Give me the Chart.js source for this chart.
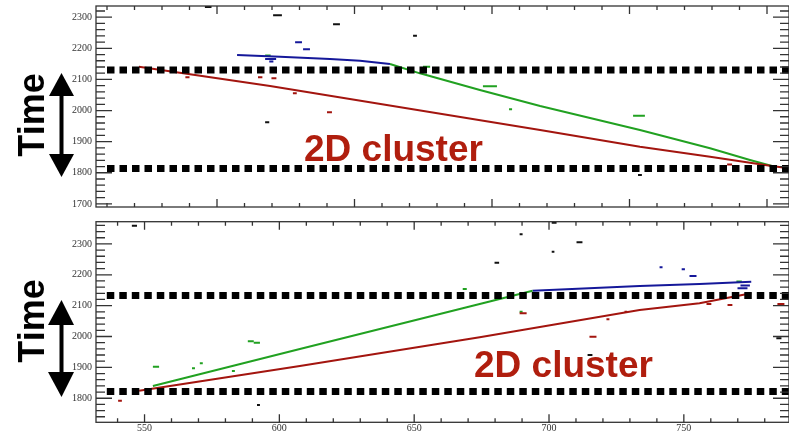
<!DOCTYPE html>
<html>
<head>
<meta charset="utf-8">
<script src="https://cdn.jsdelivr.net/npm/chart.js@4.4.1/dist/chart.umd.min.js"></script>
<style>
  html, body { margin: 0; padding: 0; background: #fff; }
  #wrap { position: relative; width: 789px; height: 433px; overflow: hidden; }
  canvas { position: absolute; left: 0; }
  #topPanel { top: 0; }
  #bottomPanel { top: 215px; }
  .time {
    position: absolute;
    font: bold 36px "Liberation Sans", Arial, sans-serif;
    line-height: 36px;
    color: #000;
    white-space: nowrap;
    transform: translate(-50%, -50%) rotate(-90deg);
  }
  .cluster {
    position: absolute;
    font: bold 37px "Liberation Sans", Arial, sans-serif;
    line-height: 37px;
    color: #b01e0e;
    white-space: nowrap;
  }
  #arrows { position: absolute; left: 0; top: 0; }
</style>
</head>
<body>
<div id="wrap">
  <canvas id="topPanel" width="789" height="215"></canvas>
  <canvas id="bottomPanel" width="789" height="232"></canvas>
  <svg id="arrows" width="120" height="433">
    <g fill="#000">
      <rect x="59.5" y="90" width="4" height="70"/>
      <polygon points="61.5,73 74,96 49,96"/>
      <polygon points="61.5,177 74,154 49,154"/>
      <rect x="59.5" y="318" width="4" height="62"/>
      <polygon points="61.5,300 74,325 48,325"/>
      <polygon points="61.5,397 74,372 48,372"/>
    </g>
  </svg>
  <div class="time" style="left:31.5px; top:115px;">Time</div>
  <div class="time" style="left:31.5px; top:321px;">Time</div>
  <div class="cluster" style="left:304px; top:130px;">2D cluster</div>
  <div class="cluster" style="left:474px; top:346px;">2D cluster</div>
</div>
<script>
// ---- upper view ----
const topYTicks = [1700, 1800, 1900, 2000, 2100, 2200, 2300];
const topBandX = [560, 808];
const topBandY = [2130, 1814];

const topRedX = [571.6, 619.3, 717.5, 753.8, 779.3, 801.1, 805.8];
const topRedY = [2140.8, 2078.8, 1937.4, 1883.7, 1851.5, 1822.6, 1816.8];
const topGreenX = [662.9, 673.8, 695.6, 717.5, 753.8, 779.3, 793.8, 801.8];
const topGreenY = [2149.5, 2119.6, 2066, 2014.6, 1937.4, 1878.6, 1841, 1821.7];
const topBlueX = [607.3, 622.9, 641.1, 652, 662.9];
const topBlueY = [2178.4, 2173, 2165.3, 2159.9, 2149.5];

// short hits: [xStart, xEnd, y]
const topBlackBits = [[620.4, 623.6, 2306], [595.6, 598, 2333], [617.5, 619, 1962], [642.2, 644.7, 2277], [671.3, 672.7, 2240.5], [753.1, 754.5, 1792.6]];
const topBlueBits = [[628.4, 630.9, 2219.3], [631.3, 633.8, 2196.8], [617.5, 621.5, 2166], [619, 620.5, 2158]];
const topRedBits = [[588.5, 590, 2106.7], [614.9, 616.5, 2106.7], [619.8, 621.6, 2103.5], [640, 641.8, 1994.2], [627.6, 629, 2055.3], [785.5, 787.3, 1826.7]];
const topGreenBits = [[674.9, 677.5, 2140.8], [696.7, 701.8, 2078], [706.2, 707.3, 2003.8], [751.3, 755.6, 1983], [617.5, 619.5, 2177]];

// ---- lower view ----
const bottomXTicks = [550, 600, 650, 700, 750];
const bottomYTicks = [1800, 1900, 2000, 2100, 2200, 2300];
const bottomBandX = [536, 789];
const bottomBandY = [2133, 1822];

const bottomRedX = [548.0, 607.6, 674.3, 733.6, 755.8, 775];
const bottomRedY = [1824.4, 1904.4, 1997.4, 2085.9, 2107.6, 2140];
const bottomGreenX = [553.1, 607.6, 659.5, 693.9];
const bottomGreenY = [1839.6, 1959.5, 2073, 2148.4];
const bottomBlueX = [693.9, 733.6, 755.8, 775];
const bottomBlueY = [2148.4, 2163.6, 2170.1, 2177.6];

const bottomBlackBits = [[545.3, 547.2, 2359], [591.7, 592.8, 1778], [679.8, 681.5, 2239.1], [689.1, 690.2, 2331.2], [701, 702.8, 2368.8], [701, 702, 2274.8], [710.2, 712.4, 2305.2], [714.3, 716.1, 1940], [784.3, 786.2, 1994.2]];
const bottomRedBits = [[540.2, 541.6, 1792], [689.1, 691.7, 2075.2], [715, 717.6, 1999.6], [721.3, 722.4, 2055.7], [728, 729, 2080.4], [758.4, 760.2, 2105.3], [766.2, 768, 2102], [784.7, 787.3, 2105.3]];
const bottomGreenBits = [[553.1, 555.4, 1902.1], [567.6, 568.7, 1897], [570.5, 571.6, 1913.1], [582.4, 583.5, 1888.2], [588.3, 590.5, 1985], [590.5, 592.8, 1980], [668, 669.5, 2154], [689.1, 690.2, 2080.4], [769.5, 771.5, 2178.5]];
const bottomBlueBits = [[741, 742.1, 2224.2], [749.2, 750.4, 2217.8], [752.1, 754.7, 2196], [769.9, 773.6, 2156], [771, 774.5, 2165]];

const RED = '#a3150f';
const GREEN = '#21a121';
const BLUE = '#15189a';
const BLACK = '#111';

function track(xs, ys, color) {
    return {
        data: xs.map(function(x, i) { return { x: x, y: ys[i] }; }),
        borderColor: color,
        borderWidth: 2,
        pointRadius: 0,
        order: 2
    };
}

function hits(list, color) {
    var pts = [];
    list.forEach(function(b) {
        pts.push({ x: b[0], y: b[2] }, { x: b[1], y: b[2] }, { x: b[1], y: null });
    });
    return {
        data: pts,
        borderColor: color,
        borderWidth: 2,
        pointRadius: 0,
        spanGaps: false,
        order: 3
    };
}

function band(xs, y) {
    return {
        data: xs.map(function(x) { return { x: x, y: y }; }),
        borderColor: '#000',
        borderWidth: 7,
        borderDash: [7.5, 5],
        borderCapStyle: 'butt',
        pointRadius: 0,
        order: 0
    };
}

// frame plus inward tick marks on all four sides
const framePlugin = {
    id: 'frame',
    afterDatasetsDraw: function(chart) {
        var ctx = chart.ctx;
        var a = chart.chartArea;
        var xs = chart.scales.x;
        var ys = chart.scales.y;
        ctx.save();
        ctx.strokeStyle = '#333';
        ctx.lineWidth = 1.3;
        ctx.strokeRect(a.left, a.top, a.right - a.left, a.bottom - a.top);
        ctx.beginPath();
        for (var v = Math.ceil(ys.min / 20) * 20; v <= ys.max; v += 20) {
            var py = ys.getPixelForValue(v);
            var len = v % 100 === 0 ? 16 : 9;
            ctx.moveTo(a.left, py); ctx.lineTo(a.left + len, py);
            ctx.moveTo(a.right, py); ctx.lineTo(a.right - len, py);
        }
        for (var u = Math.ceil(xs.min / 10) * 10; u <= xs.max; u += 10) {
            var px = xs.getPixelForValue(u);
            var tl = u % 50 === 0 ? 8 : 4;
            ctx.moveTo(px, a.bottom); ctx.lineTo(px, a.bottom - tl);
            ctx.moveTo(px, a.top); ctx.lineTo(px, a.top + tl);
        }
        ctx.stroke();
        ctx.restore();
    }
};

function fixedTicks(values) {
    return function(scale) {
        scale.ticks = values.map(function(v) { return { value: v }; });
    };
}

function plainLabel(value) {
    return String(value);
}

function buildPanel(canvasId, p) {
    return new Chart(document.getElementById(canvasId), {
        type: 'line',
        data: { datasets: p.datasets },
        options: {
            responsive: false,
            animation: false,
            events: [],
            layout: { padding: p.padding },
            plugins: { legend: { display: false }, tooltip: { enabled: false } },
            scales: {
                x: {
                    type: 'linear',
                    min: p.xMin,
                    max: p.xMax,
                    display: p.xLabels.length > 0,
                    afterBuildTicks: fixedTicks(p.xLabels),
                    afterFit: function(s) {
                        s.height = p.xHeight;
                        s.paddingLeft = 0; s.paddingRight = 0;
                    },
                    // tick marks are drawn inward by the frame plugin
                    grid: { display: false, drawTicks: false },
                    border: { display: false },
                    ticks: {
                        padding: 0,
                        autoSkip: false,
                        maxRotation: 0,
                        color: '#333',
                        callback: plainLabel,
                        font: { family: '"Liberation Serif", serif', size: 10 }
                    }
                },
                y: {
                    type: 'linear',
                    min: p.yMin,
                    max: p.yMax,
                    afterBuildTicks: fixedTicks(p.yLabels),
                    afterFit: function(s) {
                        s.width = 96;
                        s.paddingTop = 0; s.paddingBottom = 0;
                    },
                    grid: { display: false, drawTicks: false },
                    border: { display: false },
                    ticks: {
                        padding: 4,
                        color: '#333',
                        callback: plainLabel,
                        font: { family: '"Liberation Serif", serif', size: 10 }
                    }
                }
            }
        },
        plugins: [framePlugin]
    });
}

buildPanel('topPanel', {
    xMin: 556, xMax: 808, yMin: 1690, yMax: 2336,
    xLabels: [], yLabels: topYTicks, xHeight: 0,
    padding: { top: 6, bottom: 8, left: 0, right: 0 },
    datasets: [
        band(topBandX, topBandY[0]),
        band(topBandX, topBandY[1]),
        track(topRedX, topRedY, RED),
        track(topGreenX, topGreenY, GREEN),
        track(topBlueX, topBlueY, BLUE),
        hits(topBlackBits, BLACK),
        hits(topBlueBits, BLUE),
        hits(topRedBits, RED),
        hits(topGreenBits, GREEN)
    ]
});

// lower canvas runs past the page bottom so the axis box has room for its labels
buildPanel('bottomPanel', {
    xMin: 532, xMax: 789, yMin: 1722, yMax: 2372,
    xLabels: bottomXTicks, yLabels: bottomYTicks, xHeight: 24.7,
    padding: { top: 6.7, bottom: 0, left: 0, right: 0 },
    datasets: [
        band(bottomBandX, bottomBandY[0]),
        band(bottomBandX, bottomBandY[1]),
        track(bottomRedX, bottomRedY, RED),
        track(bottomGreenX, bottomGreenY, GREEN),
        track(bottomBlueX, bottomBlueY, BLUE),
        hits(bottomBlackBits, BLACK),
        hits(bottomRedBits, RED),
        hits(bottomGreenBits, GREEN),
        hits(bottomBlueBits, BLUE)
    ]
});
</script>
</body>
</html>
